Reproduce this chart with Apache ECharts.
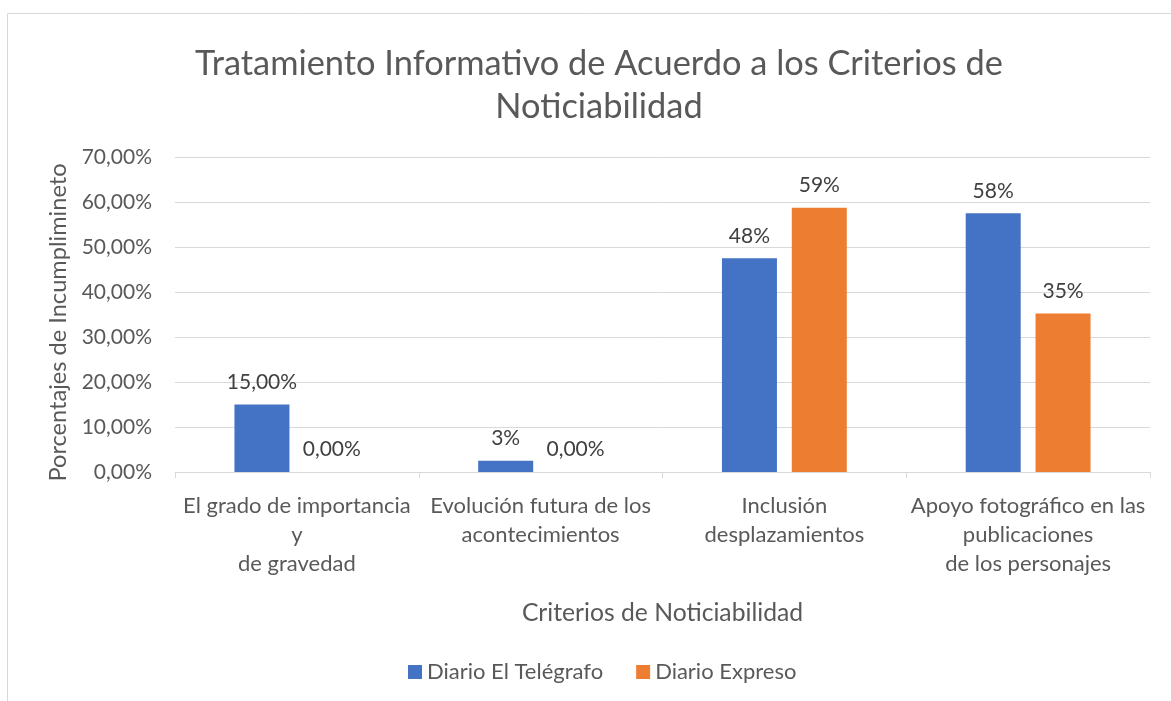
<!DOCTYPE html>
<html lang="es" style="height: 100%">
<head>
  <meta charset="utf-8">
</head>
<body style="height: 100%; margin: 0; background: #fff">
  <div id="container" style="width:1171px; height:701px"></div>

  <script type="text/javascript" src="https://fastly.jsdelivr.net/npm/echarts@6/dist/echarts.min.js"></script>
  <script type="text/javascript">
    // datos del gráfico
    var categorias = [
      'El grado de importancia\ny\nde gravedad',
      'Evolución futura de los\nacontecimientos',
      'Inclusión\ndesplazamientos',
      'Apoyo fotográfico en las\npublicaciones\nde los personajes'
    ];
    var telegrafo = [0.15, 0.025, 0.475, 0.575];
    var expreso = [0, 0, 0.587, 0.352];
    var etiquetasTelegrafo = ['15,00%', '3%', '48%', '58%'];
    var etiquetasExpreso = ['0,00%', '0,00%', '59%', '35%'];

    var fuente = 'Lato';
    var gris = '#595959';

    var dom = document.getElementById('container');
    var myChart = echarts.init(dom, null, { renderer: 'canvas' });

    var option = {
      animation: false,
      textStyle: { fontFamily: fuente },
      graphic: [{
        type: 'rect',
        shape: { x: 7.5, y: 13.5, width: 1180, height: 700 },
        style: { fill: 'none', stroke: '#d9d9d9', lineWidth: 1 }
      }],
      title: {
        text: 'Tratamiento Informativo de Acuerdo a los Criterios de\nNoticiabilidad',
        left: 594,
        textAlign: 'center',
        top: 37,
        textStyle: { fontFamily: fuente, fontSize: 34.4, fontWeight: 'normal', color: gris, lineHeight: 43 }
      },
      legend: {
        bottom: 13,
        left: 403,
        itemWidth: 14,
        itemHeight: 14,
        itemGap: 33,
        icon: 'rect',
        textStyle: { fontFamily: fuente, fontSize: 22, color: gris }
      },
      grid: { left: 175, right: 21, top: 157, bottom: 229 },
      xAxis: {
        type: 'category',
        data: categorias,
        name: 'Criterios de Noticiabilidad',
        nameLocation: 'middle',
        nameGap: 129,
        nameTextStyle: { fontFamily: fuente, fontSize: 24.7, color: gris },
        axisLine: { lineStyle: { color: '#d9d9d9' } },
        axisTick: { show: true, length: 6, lineStyle: { color: '#d9d9d9' } },
        axisLabel: { interval: 0, fontFamily: fuente, fontSize: 22, color: gris, lineHeight: 29, margin: 19 }
      },
      yAxis: {
        type: 'value',
        min: 0,
        max: 0.7,
        interval: 0.1,
        name: 'Porcentajes de Incumplimineto',
        nameLocation: 'middle',
        nameGap: 103,
        nameTextStyle: { fontFamily: fuente, fontSize: 23.6, color: gris, padding: [0, 16, 0, 0] },
        axisLine: { show: false },
        axisTick: { show: false },
        splitLine: { lineStyle: { color: '#d9d9d9' } },
        axisLabel: {
          fontFamily: fuente, fontSize: 21, color: gris, margin: 23,
          formatter: function (v) { return (v * 100).toFixed(2).replace('.', ',') + '%'; }
        }
      },
      series: [{
        name: 'Diario El Telégrafo',
        type: 'bar',
        data: telegrafo,
        barWidth: 55,
        barGap: '27%',
        itemStyle: { color: '#4472c4' },
        label: {
          show: true, position: 'top', distance: 12,
          fontFamily: fuente, fontSize: 21, color: '#404040',
          formatter: function (p) { return etiquetasTelegrafo[p.dataIndex]; }
        }
      }, {
        name: 'Diario Expreso',
        type: 'bar',
        data: expreso,
        barWidth: 55,
        itemStyle: { color: '#ed7d31' },
        label: {
          show: true, position: 'top', distance: 12,
          fontFamily: fuente, fontSize: 21, color: '#404040',
          formatter: function (p) { return etiquetasExpreso[p.dataIndex]; }
        }
      }]
    };

    myChart.setOption(option);
    window.addEventListener('resize', myChart.resize);
  </script>
</body>
</html>
